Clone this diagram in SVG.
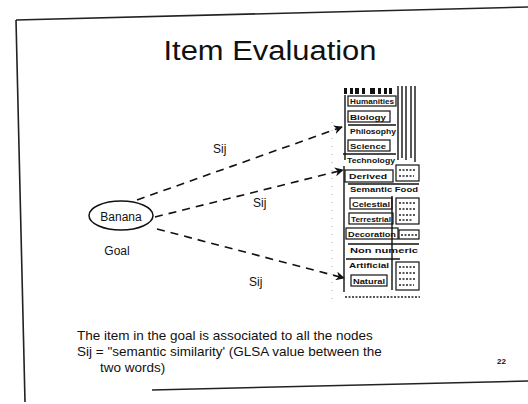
<svg xmlns="http://www.w3.org/2000/svg" width="528" height="404" viewBox="0 0 528 404">
  <style>
    .frame { stroke: #222; stroke-width: 1.6; fill: none; }
    .txt { font-family: "Liberation Sans", Arial, sans-serif; fill: #111; }
    .title { font-size: 27px; }
    .body { font-size: 13.5px; }
    .lbl { font-size: 12px; }
    .link { stroke: #111; stroke-width: 1.6; fill: none; stroke-dasharray: 8 6; }
    .node { stroke: #111; stroke-width: 1.5; fill: #fff; }
    .tbox { stroke: #111; stroke-width: 1.2; fill: none; }
    .tline { stroke: #111; stroke-width: 1.4; fill: none; }
    .ttxt { font-family: "Liberation Sans", Arial, sans-serif; font-size: 7.5px; font-weight: bold; fill: #111; }
    .scrib { stroke: #222; stroke-width: 1.3; fill: none; stroke-dasharray: 2 1.5; }
  </style>
  <defs>
    <marker id="arrow" viewBox="0 0 10 10" refX="9" refY="5" markerWidth="9" markerHeight="9" markerUnits="userSpaceOnUse" orient="auto">
      <path d="M0,0 L10,5 L0,10 L3,5 z" fill="#111"/>
    </marker>
  </defs>

  <rect width="528" height="404" fill="#fff"/>

  <!-- slide frame -->
  <g id="frame">
    <line class="frame" x1="16" y1="20" x2="528" y2="7"/>
    <line class="frame" x1="16" y1="20" x2="25" y2="402"/>
    <line class="frame" x1="152" y1="390" x2="528" y2="381"/>
  </g>

  <!-- title -->
  <text class="txt title" x="270" y="60" text-anchor="middle" textLength="213" lengthAdjust="spacingAndGlyphs">Item Evaluation</text>

  <!-- connectors -->
  <g id="connectors">
    <line class="link" x1="137" y1="200" x2="342" y2="127" marker-end="url(#arrow)"/>
    <line class="link" x1="155" y1="217" x2="343" y2="170" marker-end="url(#arrow)"/>
    <line class="link" x1="157" y1="229" x2="344" y2="278" marker-end="url(#arrow)"/>
    <text class="txt lbl" x="213" y="153">Sij</text>
    <text class="txt lbl" x="253" y="207">Sij</text>
    <text class="txt lbl" x="249" y="286">Sij</text>
  </g>

  <!-- goal node -->
  <g id="goal">
    <ellipse class="node" cx="121" cy="215.5" rx="32" ry="14.5"/>
    <text class="txt lbl" x="121" y="221" text-anchor="middle">Banana</text>
    <text class="txt lbl" x="117" y="255" text-anchor="middle">Goal</text>
  </g>

  <!-- faint dotted guide beside the tree -->
  <line x1="332" y1="122" x2="332" y2="300" stroke="#aaa" stroke-width="1" stroke-dasharray="1 7"/>

  <!-- category tree -->
  <g id="tree">
    <!-- header icons -->
    <g fill="#111">
      <rect x="344" y="88" width="3" height="6"/>
      <rect x="350" y="88" width="3" height="6"/>
      <rect x="355" y="88" width="4" height="6"/>
      <rect x="362" y="88" width="3" height="6"/>
      <rect x="370" y="88" width="5" height="6"/>
      <rect x="378" y="88" width="3" height="6"/>
      <rect x="384" y="88" width="3" height="6"/>
      <rect x="389" y="88" width="3" height="6"/>
    </g>
    <!-- trunk -->
    <line class="tline" x1="345" y1="95" x2="345" y2="160"/>
    <line class="tline" x1="344" y1="166" x2="344" y2="292"/>
    <!-- right-hand columns -->
    <line class="tline" x1="398" y1="86" x2="398" y2="160"/>
    <line class="tline" x1="402" y1="86" x2="402" y2="158"/>
    <line class="tline" x1="406" y1="86" x2="406" y2="160"/>
    <line class="tline" x1="411" y1="86" x2="411" y2="158"/>
    <line class="tline" x1="415" y1="86" x2="415" y2="162"/>

    <g id="n-humanities">
      <rect class="tbox" x="348" y="96" width="48" height="10"/>
      <text class="ttxt" x="350" y="104" textLength="44" lengthAdjust="spacingAndGlyphs">Humanities</text>
    </g>
    <g id="n-biology">
      <rect class="tbox" x="348" y="111" width="42" height="11"/>
      <text class="ttxt" x="350" y="120" textLength="36" lengthAdjust="spacingAndGlyphs">Biology</text>
    </g>
    <g id="n-philosophy">
      <line class="tline" x1="348" y1="125" x2="396" y2="125"/>
      <text class="ttxt" x="350" y="134" textLength="46" lengthAdjust="spacingAndGlyphs">Philosophy</text>
    </g>
    <g id="n-science">
      <rect class="tbox" x="348" y="140" width="42" height="11"/>
      <text class="ttxt" x="350" y="149" textLength="36" lengthAdjust="spacingAndGlyphs">Science</text>
    </g>
    <g id="n-technology">
      <line class="tline" x1="343" y1="154" x2="396" y2="154"/>
      <text class="ttxt" x="347" y="163" textLength="48" lengthAdjust="spacingAndGlyphs">Technology</text>
    </g>
    <g id="n-derived">
      <rect class="tbox" x="345" y="170" width="48" height="12"/>
      <text class="ttxt" x="349" y="179" textLength="38" lengthAdjust="spacingAndGlyphs">Derived</text>
    </g>
    <g id="n-semantic">
      <line class="tline" x1="348" y1="184" x2="419" y2="184"/>
      <text class="ttxt" x="350" y="192" textLength="68" lengthAdjust="spacingAndGlyphs">Semantic Food</text>
    </g>
    <g id="n-celestial">
      <rect class="tbox" x="350" y="198" width="42" height="11"/>
      <text class="ttxt" x="352" y="207" textLength="38" lengthAdjust="spacingAndGlyphs">Celestial</text>
    </g>
    <g id="n-terrestrial">
      <rect class="tbox" x="349" y="213" width="44" height="11"/>
      <text class="ttxt" x="351" y="222" textLength="40" lengthAdjust="spacingAndGlyphs">Terrestrial</text>
    </g>
    <g id="n-decoration">
      <rect class="tbox" x="346" y="228" width="52" height="11"/>
      <text class="ttxt" x="348" y="237" textLength="48" lengthAdjust="spacingAndGlyphs">Decoration</text>
    </g>
    <g id="n-nonnumeric">
      <line class="tline" x1="348" y1="244" x2="419" y2="244"/>
      <text class="ttxt" x="350" y="253" textLength="68" lengthAdjust="spacingAndGlyphs">Non numeric</text>
    </g>
    <g id="n-artificial">
      <line class="tline" x1="346" y1="259" x2="400" y2="259"/>
      <text class="ttxt" x="349" y="268" textLength="40" lengthAdjust="spacingAndGlyphs">Artificial</text>
    </g>
    <g id="n-natural">
      <rect class="tbox" x="351" y="275" width="36" height="11"/>
      <text class="ttxt" x="353" y="284" textLength="32" lengthAdjust="spacingAndGlyphs">Natural</text>
    </g>

    <!-- small side boxes -->
    <rect class="tbox" x="396" y="165" width="23" height="16"/>
    <path class="scrib" d="M399,170 H416 M399,176 H414"/>
    <rect class="tbox" x="396" y="198" width="23" height="26"/>
    <path class="scrib" d="M399,203 H416 M399,209 H415 M399,215 H416 M399,220 H413"/>
    <rect class="tbox" x="399" y="230" width="20" height="9"/>
    <path class="scrib" d="M401,235 H417"/>
    <rect class="tbox" x="396" y="262" width="23" height="28"/>
    <path class="scrib" d="M399,267 H416 M399,273 H415 M399,279 H416 M399,285 H414"/>
    <line class="tline" x1="392" y1="196" x2="392" y2="290"/>
    <path class="scrib" d="M345,297 H420"/>
  </g>

  <!-- footnote text -->
  <g id="notes">
    <text class="txt body" x="77" y="340">The item in the goal is associated to all the nodes</text>
    <text class="txt body" x="77" y="356">Sij = "semantic similarity' (GLSA value between the</text>
    <text class="txt body" x="100" y="372">two words)</text>
    <text class="txt" x="497" y="364" font-size="8" font-weight="bold">22</text>
  </g>
</svg>
